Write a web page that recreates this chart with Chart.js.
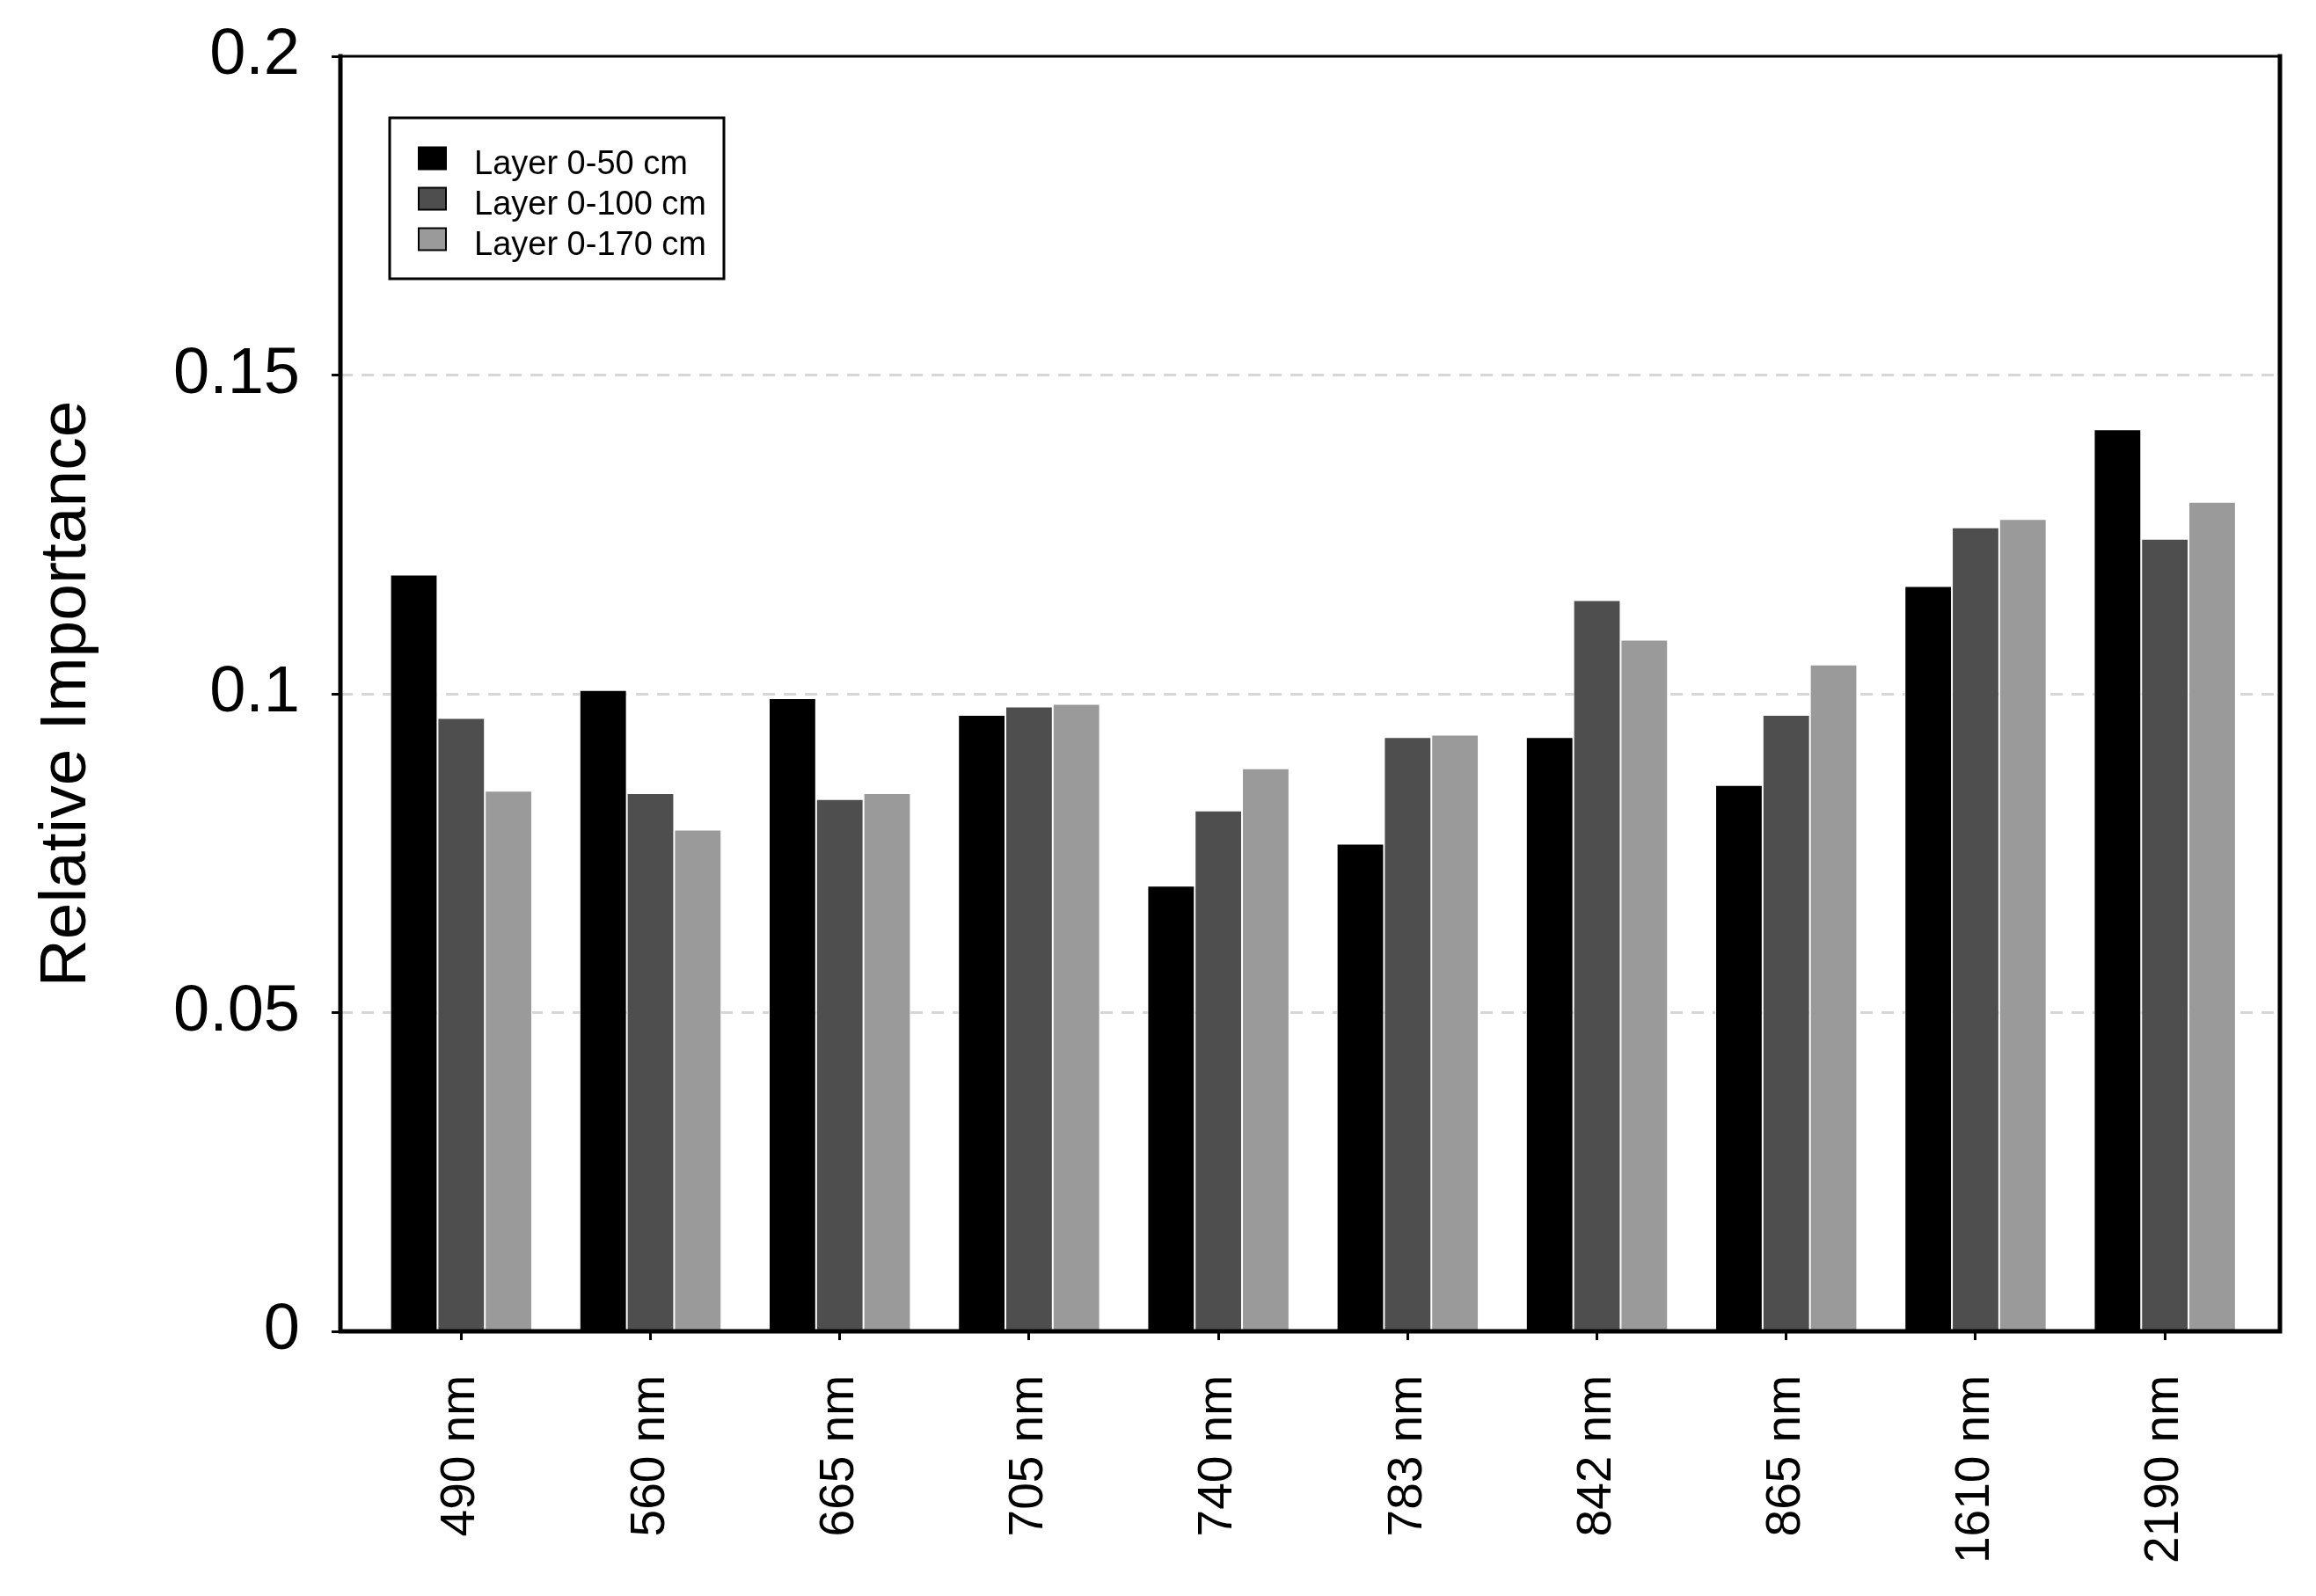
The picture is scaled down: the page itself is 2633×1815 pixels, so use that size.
<!DOCTYPE html>
<html>
<head>
<meta charset="utf-8">
<script src="https://cdn.jsdelivr.net/npm/chart.js@4.4.1/dist/chart.umd.min.js"></script>
<style>
  html, body { margin: 0; padding: 0; background: #ffffff; }
</style>
</head>
<body>
<canvas id="GraficoImportancia" width="2633" height="1815"></canvas>
<script>
// bandas espectrais (eixo x)
const bandas = ['490 nm', '560 nm', '665 nm', '705 nm', '740 nm', '783 nm', '842 nm', '865 nm', '1610 nm', '2190 nm'];

// importancia relativa por camada
const camada50  = [0.1187, 0.1006, 0.0993, 0.0967, 0.0699, 0.0765, 0.0932, 0.0857, 0.1169, 0.1415];
const camada100 = [0.0962, 0.0844, 0.0835, 0.0980, 0.0817, 0.0932, 0.1147, 0.0967, 0.1261, 0.1243];
const camada170 = [0.0848, 0.0787, 0.0844, 0.0984, 0.0883, 0.0936, 0.1085, 0.1046, 0.1274, 0.1301];

const nomesCamadas = ['Layer 0-50 cm', 'Layer 0-100 cm', 'Layer 0-170 cm'];
const coresCamadas = ['#000000', '#4e4e4e', '#9a9a9a'];

// marcas do eixo y
const ticksY = [0, 0.05, 0.1, 0.15, 0.2];

const fonte = '"Liberation Sans", Arial, sans-serif';

function PegarPontos(valores) {
    return valores.map(function (v, i) { return { x: i, y: v }; });
}

// moldura do grafico (caixa preta em volta da area)
const moldura = {
    id: 'moldura',
    afterDatasetsDraw: function (chart) {
        const ctx = chart.ctx;
        const a = chart.chartArea;
        ctx.save();
        ctx.strokeStyle = '#000';
        ctx.lineCap = 'square';
        ctx.lineWidth = 3;
        ctx.beginPath();
        ctx.moveTo(a.left, a.top);
        ctx.lineTo(a.right, a.top);
        ctx.stroke();
        ctx.lineWidth = 5;
        ctx.beginPath();
        ctx.moveTo(a.left, a.top);
        ctx.lineTo(a.left, a.bottom);
        ctx.lineTo(a.right, a.bottom);
        ctx.lineTo(a.right, a.top);
        ctx.stroke();
        ctx.restore();
    }
};

// legenda dentro da area, com caixa
const legendaCaixa = {
    id: 'legendaCaixa',
    afterDraw: function (chart) {
        const ctx = chart.ctx;
        ctx.save();
        ctx.strokeStyle = '#000';
        ctx.lineWidth = 3;
        ctx.strokeRect(443, 134, 380, 183);
        ctx.font = '38px ' + fonte;
        ctx.textBaseline = 'alphabetic';
        ctx.textAlign = 'left';
        chart.data.datasets.forEach(function (ds, i) {
            const y = 180 + i * 46;
            ctx.fillStyle = ds.backgroundColor;
            ctx.fillRect(476, y - 12.5, 31, 25);
            ctx.lineWidth = 2;
            ctx.strokeRect(476, y - 12.5, 31, 25);
            ctx.fillStyle = '#000';
            ctx.fillText(ds.label, 539, y + 18);
        });
        ctx.restore();
    }
};

const series = [camada50, camada100, camada170];

new Chart(document.getElementById('GraficoImportancia'), {
    type: 'bar',
    data: {
        datasets: series.map(function (valores, i) {
            return {
                label: nomesCamadas[i],
                data: PegarPontos(valores),
                backgroundColor: coresCamadas[i],
                borderColor: '#ffffff',
                borderWidth: { left: 1, right: 1, top: 1, bottom: 0 },
                borderSkipped: false,
                categoryPercentage: 0.75,
                barPercentage: 1.0
            };
        })
    },
    options: {
        responsive: false,
        animation: false,
        devicePixelRatio: 1,
        layout: { padding: { left: 20, right: 41, top: 64, bottom: 0 } },
        plugins: {
            legend: { display: false },
            tooltip: { enabled: false }
        },
        scales: {
            x: {
                type: 'linear',
                offset: false,
                min: -0.638,
                max: 9.608,
                afterFit: function (scale) {
                    scale.height = 1815 - 1514;
                    scale.paddingLeft = 0;
                    scale.paddingRight = 0;
                },
                afterBuildTicks: function (scale) {
                    scale.ticks = bandas.map(function (_, i) { return { value: i }; });
                },
                grid: {
                    offset: false,
                    drawOnChartArea: false,
                    drawTicks: true,
                    tickLength: 10,
                    tickWidth: 3,
                    tickColor: '#000'
                },
                border: { display: false },
                ticks: {
                    autoSkip: false,
                    minRotation: 90,
                    maxRotation: 90,
                    padding: 40,
                    color: '#000',
                    font: { family: fonte, size: 55 },
                    callback: function (v) { return bandas[v]; }
                }
            },
            y: {
                min: 0,
                max: 0.2,
                afterFit: function (scale) {
                    scale.width = 387 - 20;
                    scale.paddingTop = 0;
                    scale.paddingBottom = 0;
                },
                afterBuildTicks: function (scale) {
                    scale.ticks = ticksY.map(function (v) { return { value: v }; });
                },
                grid: {
                    drawOnChartArea: true,
                    drawTicks: true,
                    tickLength: 10,
                    tickWidth: 3,
                    tickColor: '#000',
                    lineWidth: 3,
                    color: function (c) {
                        const v = c.tick ? c.tick.value : 0;
                        return (v > 0.001 && v < 0.199) ? '#d6d6d6' : 'rgba(0,0,0,0)';
                    }
                },
                border: { display: false, dash: [14, 10] },
                ticks: {
                    padding: 36,
                    color: '#000',
                    font: { family: fonte, size: 74 },
                    callback: function (v) { return String(+v.toFixed(2)); }
                },
                title: {
                    display: true,
                    text: 'Relative Importance',
                    color: '#000',
                    font: { family: fonte, size: 75 },
                    padding: { top: 11, bottom: 0 }
                }
            }
        }
    },
    plugins: [moldura, legendaCaixa]
});
</script>
</body>
</html>
